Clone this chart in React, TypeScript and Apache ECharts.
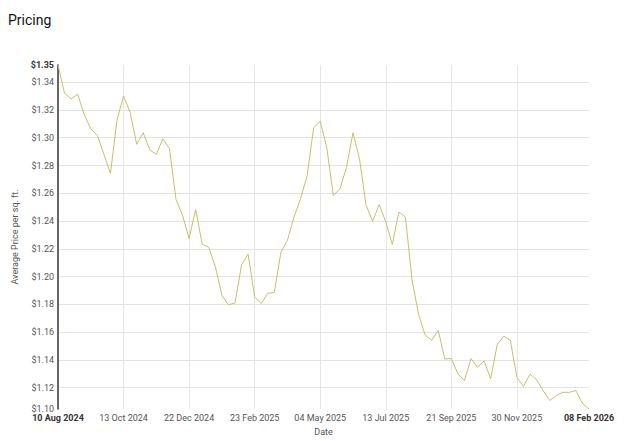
import React, { useEffect, useRef } from "react";
import * as echarts from "echarts";

const categories: string[] = [
  "10 Aug 2024", "11 Aug 2024", "18 Aug 2024", "25 Aug 2024", "01 Sep 2024", "08 Sep 2024", "15 Sep 2024", "22 Sep 2024", "29 Sep 2024", "06 Oct 2024",
  "13 Oct 2024", "20 Oct 2024", "27 Oct 2024", "03 Nov 2024", "10 Nov 2024", "17 Nov 2024", "24 Nov 2024", "01 Dec 2024", "08 Dec 2024", "15 Dec 2024",
  "22 Dec 2024", "29 Dec 2024", "01 Jan 2025", "05 Jan 2025", "12 Jan 2025", "19 Jan 2025", "26 Jan 2025", "02 Feb 2025", "09 Feb 2025", "16 Feb 2025",
  "23 Feb 2025", "02 Mar 2025", "09 Mar 2025", "16 Mar 2025", "23 Mar 2025", "30 Mar 2025", "06 Apr 2025", "13 Apr 2025", "20 Apr 2025", "27 Apr 2025",
  "04 May 2025", "11 May 2025", "18 May 2025", "25 May 2025", "01 Jun 2025", "08 Jun 2025", "15 Jun 2025", "22 Jun 2025", "29 Jun 2025", "06 Jul 2025",
  "13 Jul 2025", "20 Jul 2025", "27 Jul 2025", "03 Aug 2025", "10 Aug 2025", "17 Aug 2025", "24 Aug 2025", "31 Aug 2025", "07 Sep 2025", "14 Sep 2025",
  "21 Sep 2025", "28 Sep 2025", "05 Oct 2025", "12 Oct 2025", "19 Oct 2025", "26 Oct 2025", "02 Nov 2025", "09 Nov 2025", "16 Nov 2025", "23 Nov 2025",
  "30 Nov 2025", "07 Dec 2025", "14 Dec 2025", "21 Dec 2025", "28 Dec 2025", "01 Jan 2026", "04 Jan 2026", "11 Jan 2026", "18 Jan 2026", "25 Jan 2026",
  "01 Feb 2026", "08 Feb 2026",
];

const prices: number[] = [
  1.3524, 1.3321, 1.3279, 1.3314, 1.3167, 1.3064, 1.3017, 1.2881, 1.2743, 1.3126,
  1.3302, 1.3183, 1.2953, 1.3036, 1.2912, 1.2881, 1.2993, 1.2922, 1.2555, 1.2441,
  1.2274, 1.2484, 1.2234, 1.2210, 1.2072, 1.1865, 1.1796, 1.1810, 1.2084, 1.2162,
  1.1853, 1.1805, 1.1879, 1.1886, 1.2174, 1.2262, 1.2429, 1.2560, 1.2726, 1.3072,
  1.3119, 1.2929, 1.2584, 1.2631, 1.2786, 1.3036, 1.2845, 1.2512, 1.2398, 1.2519,
  1.2393, 1.2231, 1.2465, 1.2429, 1.1977, 1.1727, 1.1579, 1.1541, 1.1613, 1.1406,
  1.1410, 1.1300, 1.1250, 1.1409, 1.1347, 1.1392, 1.1264, 1.1510, 1.1570, 1.1542,
  1.1273, 1.1209, 1.1297, 1.1257, 1.1179, 1.1107, 1.1143, 1.1166, 1.1166, 1.1179,
  1.1086, 1.1046,
];

const titleText = "Pricing";
const yAxisName = "Average Price per sq. ft.";
const xAxisName = "Date";

export default function App() {
  const ref = useRef<HTMLDivElement>(null);

  useEffect(() => {
    if (!ref.current) return;
    const chart = echarts.init(ref.current, null, { renderer: "svg" });
    const maxV = Math.max(...prices);
    const lastIdx = categories.length - 1;
    const font = "Roboto, 'Noto Sans', sans-serif";

    chart.setOption({
      animation: false,
      backgroundColor: "#ffffff",
      textStyle: { fontFamily: font },
      title: {
        text: titleText,
        left: 3,
        top: 8,
        textStyle: { fontSize: 14, fontWeight: "normal", color: "#111", fontFamily: font },
      },
      grid: { left: 58, right: 35, top: 65, bottom: 28, containLabel: false },
      xAxis: {
        type: "category",
        data: categories,
        boundaryGap: false,
        name: xAxisName,
        nameLocation: "middle",
        nameGap: 18,
        nameTextStyle: { fontSize: 9, color: "#555", fontFamily: font },
        axisLine: { show: false },
        axisTick: { show: false },
        axisLabel: {
          fontSize: 9,
          color: "#555",
          margin: 4,
          fontFamily: font,
          interval: (i: number) => (i % 10 === 0 && i !== 80) || i === lastIdx,
          formatter: (v: string, i: number) =>
            i === 0 || i === lastIdx ? "{b|" + v + "}" : v,
          rich: { b: { fontSize: 9, fontWeight: "bold", color: "#333", fontFamily: font } },
        },
        splitLine: {
          show: true,
          interval: (i: number) => i % 10 === 0 && i > 0 && i < 80,
          lineStyle: { color: "#e6e6e6", width: 1 },
        },
      },
      yAxis: {
        type: "value",
        min: "dataMin",
        max: "dataMax",
        splitNumber: 12,
        name: yAxisName,
        nameLocation: "middle",
        nameGap: 31,
        nameTextStyle: { fontSize: 9, color: "#555", fontFamily: font },
        axisLine: { show: true, lineStyle: { color: "#333", width: 1.5 } },
        axisTick: { show: false },
        axisLabel: {
          fontSize: 9,
          color: "#555",
          margin: 4,
          fontFamily: font,
          showMinLabel: true,
          showMaxLabel: true,
          formatter: (v: number) => {
            const s = "$" + v.toFixed(2);
            return Math.abs(v - maxV) < 1e-9 ? "{b|" + s + "}" : s;
          },
          rich: { b: { fontSize: 9, fontWeight: "bold", color: "#333", fontFamily: font } },
        },
        splitLine: {
          show: true,
          showMinLine: false,
          showMaxLine: false,
          lineStyle: { color: "#e3e3e3", width: 1 },
        },
      },
      series: [
        {
          type: "line",
          data: prices,
          showSymbol: false,
          symbol: "none",
          lineStyle: { color: "#c5c06a", width: 1 },
          itemStyle: { color: "#c5c06a" },
        },
      ],
    });

    return () => chart.dispose();
  }, []);

  return (
    <div
      ref={ref}
      style={{ position: "absolute", left: 0, top: 0, width: 624, height: 441 }}
    />
  );
}
